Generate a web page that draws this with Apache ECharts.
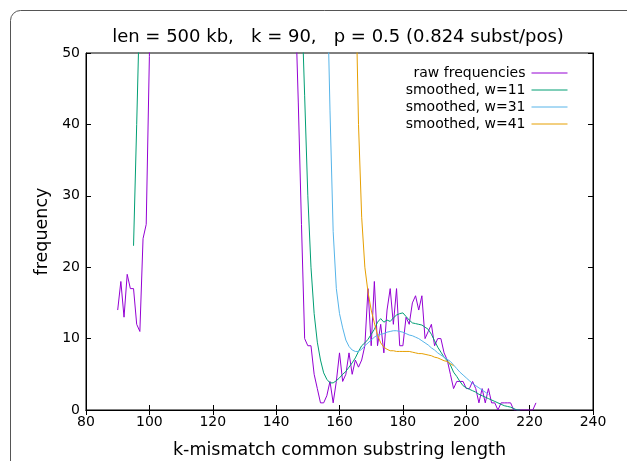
<!DOCTYPE html>
<html>
<head>
<meta charset="utf-8">
<script src="https://cdn.jsdelivr.net/npm/echarts@6/dist/echarts.min.js"></script>
<style>
html,body{margin:0;padding:0;background:#fff;}
#c{width:627px;height:461px;}
</style>
</head>
<body>
<div id="c"></div>
<script>
// ---- data ----
const titleText = 'len = 500 kb,   k = 90,   p = 0.5 (0.824 subst/pos)';
const xName = 'k-mismatch common substring length';
const yName = 'frequency';
const xTicks = [80, 100, 120, 140, 160, 180, 200, 220, 240];
const yTicks = [0, 10, 20, 30, 40, 50];
const seriesNames = ['raw frequencies', 'smoothed, w=11', 'smoothed, w=31', 'smoothed, w=41'];

// raw frequencies (left part, k = 90..101; values above 50 are off-chart estimates)
const rawLeftK = [90, 91, 92, 93, 94, 95, 96, 97, 98, 99, 100, 101];
const rawLeftF = [14, 18, 13, 19, 17, 17, 12, 11, 24, 26, 49.5, 90];
// raw frequencies (right part, k = 145..222)
const rawRightK = [145,146,147,148,149,150,151,152,153,154,155,156,157,158,159,160,161,162,163,164,165,166,167,168,169,170,171,172,173,174,175,176,177,178,179,180,181,182,183,184,185,186,187,188,189,190,191,192,193,194,195,196,197,198,199,200,201,202,203,204,205,206,207,208,209,210,211,212,213,214,215,216,217,218,219,220,221,222];
const rawRightF = [90,58,43,26,10,9,9,5,3,1,1,2,4,1,4,8,4,5,8,5,7,6,7,9,17,9,18,9,12,8,14,17,12,17,9,9,13,12,15,16,14,16,10,11,12,9,10,10,8,7,5,3,4,4,4,3,3,4,3,1,3,1,3,1,1,0,1,1,1,1,0,0,0,0,0,0,0,1];

// smoothed w=11
const w11LeftK = [95, 96, 97];
const w11LeftF = [23, 40, 58];
const w11RightK = [147,148,149,150,151,152,153,154,155,156,157,158,159,160,161,162,163,164,165,166,167,168,169,170,171,172,173,174,175,176,177,178,179,180,181,182,183,184,185,186,187,188,189,190,191,192,193,194,195,196,197,198,199,200,201,202,203,204,205,206,207,208,209,210,211,212,213,214,215,216,217];
const w11RightF = [72,58,44,30,20,13.5,9.5,7,5.2,4.3,3.8,3.8,4.1,4.5,5,5.4,6,6.6,7.3,8.2,9,9.4,9.9,10.6,11.3,12.3,12.8,12.3,12.6,12.4,12.9,13.3,13.5,13.6,13.1,12.6,12.2,12.1,12,11.9,11.6,11.3,10.6,9.7,8.8,8.1,7.4,6.9,6.3,5.3,4.7,4,3.4,3.1,2.9,2.7,2.5,2.2,2,1.8,1.6,1.4,1.2,1,0.8,0.6,0.5,0.4,0.2,0,0];

// smoothed w=31
const w31K = [155,156,157,158,159,160,161,162,163,164,165,166,167,168,169,170,171,172,173,174,175,176,177,178,179,180,181,182,183,184,185,186,187,188,189,190,191,192,193,194,195,196,197,198,199,200,201,202,203,204,205,206,207];
const w31F = [80,62,42,25,17,13.5,11.5,9.8,8.9,8.4,8.2,8.2,8.5,9,9.4,9.8,10.2,10.5,10.6,10.7,10.9,11,11.1,11.1,11,10.9,10.7,10.5,10.4,10.2,10,9.7,9.4,9.1,8.7,8.4,8,7.7,7.4,7.1,6.8,6.3,5.8,5.3,4.9,4.5,4.1,3.7,3.4,3.1,2.8,2.5,2.2];

// smoothed w=41
const w41K = [164,165,166,167,168,169,170,171,172,173,174,175,176,177,178,179,180,181,182,183,184,185,186,187,188,189,190,191,192,193,194,195,196];
const w41F = [80,62,40,27,20,16.5,14,12.2,10.5,9.4,8.8,8.5,8.3,8.3,8.2,8.2,8.2,8.2,8.2,8.1,8,7.9,7.9,7.8,7.7,7.6,7.4,7.3,7.1,6.9,6.8,6.5,6.2];

const colors = ['#9400d3', '#009e73', '#56b4e9', '#e69f00'];

// ---- build ----
function pairs(ks, fs) { return ks.map((k, i) => [k, fs[i]]); }
const rawData = pairs(rawLeftK, rawLeftF).concat([[120, null]], pairs(rawRightK, rawRightF));
const w11Data = pairs(w11LeftK, w11LeftF).concat([[120, null]], pairs(w11RightK, w11RightF));
const w31Data = pairs(w31K, w31F);
const w41Data = pairs(w41K, w41F);

const FONT = 'DejaVu Sans';
const chart = echarts.init(document.getElementById('c'), null, { renderer: 'canvas' });

function lineSeries(name, data, color) {
  return {
    name: name, type: 'line', data: data, symbol: 'none', showSymbol: false,
    clip: true, connectNulls: false, animation: false,
    lineStyle: { color: color, width: 1 }, itemStyle: { color: color },
    emphasis: { disabled: true }
  };
}

const legendTops = [66, 83, 100, 117];
const legends = seriesNames.map((n, i) => ({
  data: [n], orient: 'vertical', align: 'right', right: 59, top: legendTops[i],
  itemWidth: 36, itemHeight: 14, itemGap: 0, padding: 0, selectedMode: false,
  itemStyle: { opacity: 0, borderWidth: 0 },
  lineStyle: { width: 1 },
  textStyle: { fontFamily: FONT, fontSize: 14, color: '#000', padding: [0, 1, 0, 0] }
}));

const tickCommon = { show: true, inside: true, length: 5, lineStyle: { color: '#000', width: 1 } };

chart.setOption({
  animation: false,
  backgroundColor: '#fff',
  title: {
    text: titleText, left: 333, top: 23, textAlign: 'center',
    textStyle: { fontFamily: FONT, fontSize: 18, fontWeight: 'normal', color: '#000' }
  },
  legend: legends,
  grid: { left: 86, top: 53, right: 34, bottom: 51, show: true, borderColor: '#000', borderWidth: 1, backgroundColor: 'transparent', containLabel: false, outerBoundsMode: 'none' },
  xAxis: [
    {
      type: 'value', min: 80, max: 240, interval: 20, position: 'bottom',
      name: xName, nameLocation: 'middle', nameGap: 31,
      nameTextStyle: { fontFamily: FONT, fontSize: 17.5, color: '#000' },
      axisLine: { show: true, lineStyle: { color: '#000', width: 1 } },
      axisTick: tickCommon,
      axisLabel: { fontFamily: FONT, fontSize: 14, color: '#000', margin: 5 },
      splitLine: { show: false }
    },
    {
      type: 'value', min: 80, max: 240, interval: 20, position: 'top',
      axisLine: { show: true, lineStyle: { color: '#000', width: 1 } },
      axisTick: tickCommon, axisLabel: { show: false }, splitLine: { show: false }
    }
  ],
  yAxis: [
    {
      type: 'value', min: 0, max: 50, interval: 10, position: 'left',
      name: yName, nameLocation: 'middle', nameGap: 35, nameRotate: 90,
      nameTextStyle: { fontFamily: FONT, fontSize: 17.5, color: '#000' },
      axisLine: { show: true, lineStyle: { color: '#000', width: 1 } },
      axisTick: tickCommon,
      axisLabel: { fontFamily: FONT, fontSize: 14, color: '#000', margin: 6 },
      splitLine: { show: false }
    },
    {
      type: 'value', min: 0, max: 50, interval: 10, position: 'right',
      axisLine: { show: true, lineStyle: { color: '#000', width: 1 } },
      axisTick: tickCommon, axisLabel: { show: false }, splitLine: { show: false }
    }
  ],
  graphic: [{
    type: 'rect', silent: true, z: -10,
    shape: { x: 10.5, y: 10.5, width: 700, height: 600, r: 10 },
    style: { fill: 'none', stroke: '#555', lineWidth: 1 }
  }],
  series: [
    lineSeries(seriesNames[0], rawData, colors[0]),
    lineSeries(seriesNames[1], w11Data, colors[1]),
    lineSeries(seriesNames[2], w31Data, colors[2]),
    lineSeries(seriesNames[3], w41Data, colors[3])
  ]
});
</script>
</body>
</html>
